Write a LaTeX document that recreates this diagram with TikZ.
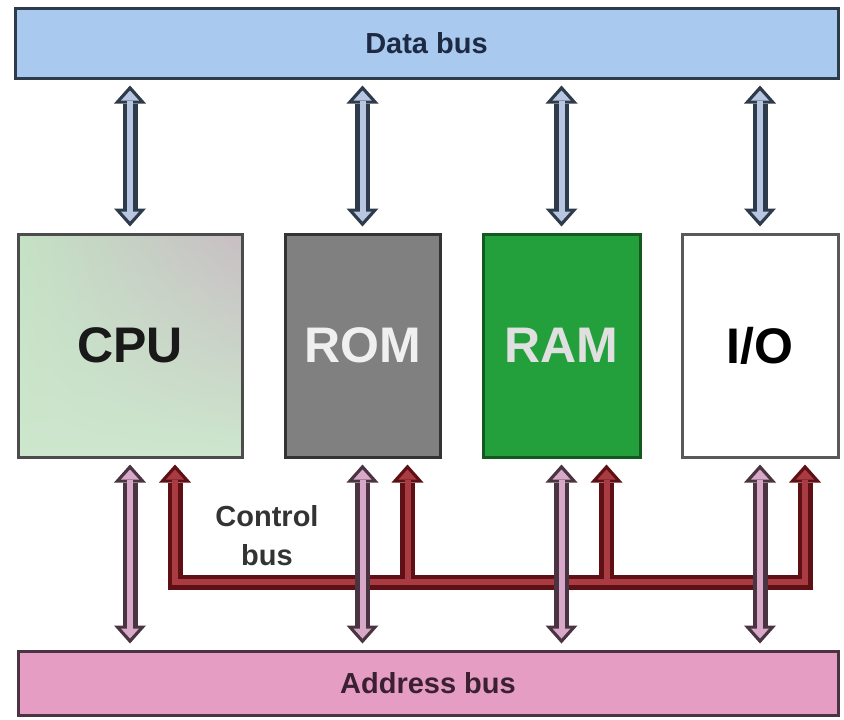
\documentclass[tikz,border=0pt]{standalone}
\usepackage{fontspec}
\setmainfont{Liberation Sans}
\usetikzlibrary{arrows.meta,calc,shadings}

\definecolor{databg}{HTML}{A9C9EF}
\definecolor{dataedge}{HTML}{2E3B4B}
\definecolor{datatext}{HTML}{1E2A44}
\definecolor{datalight}{HTML}{B8C6E2}
\definecolor{cpugreen}{HTML}{C4E2C4}
\definecolor{cpugray}{HTML}{C8BEC4}
\definecolor{romfill}{HTML}{808080}
\definecolor{ramfill}{HTML}{23A03C}
\definecolor{ramedge}{HTML}{145A20}
\definecolor{addrbg}{HTML}{E59DC3}
\definecolor{addredge}{HTML}{4A3442}
\definecolor{addrtext}{HTML}{3A2030}
\definecolor{addrlight}{HTML}{D8A8C8}
\definecolor{ctledge}{HTML}{5E1015}
\definecolor{ctllight}{HTML}{A83C42}

\begin{document}
\begin{tikzpicture}
  [x=0.5pt, y=-0.5pt,
    every node/.style={inner sep=0pt},
    unit/.style={draw, line width=1.5pt, minimum height=111.5pt,
      font=\fontsize{25}{30}\selectfont\bfseries},
    bus/.style={draw, line width=1.5pt, font=\fontsize{14.5}{18}\selectfont\bfseries},
    outer/.style={line width=7.5pt, line join=miter, shorten <=3pt, shorten >=3pt,
      >={Triangle[width=16pt,length=9pt,line width=0pt]}},
    inner/.style={line width=3pt, line join=miter, shorten <=5.5pt, shorten >=5.5pt,
      >={Triangle[width=9pt,length=5pt,line width=0pt]}},
  ]
  \useasboundingbox (0,0) rectangle (844,719);

  % buses
  \node[bus, draw=dataedge, fill=databg, text=datatext,
    minimum width=411.5pt, minimum height=35pt] (data) at (426.5,43) {Data bus};
  \node[bus, draw=addredge, fill=addrbg, text=addrtext,
    minimum width=410pt, minimum height=32pt] (addr) at (428,683) {Address bus};

  % units
  \node[unit, draw=black!70, minimum width=112pt, shade,
    upper left=cpugreen, lower left=cpugreen!85!white, lower right=cpugreen!85!white,
    upper right=cpugray, text=black!90] (cpu) at (130,345.5) {CPU};
  \node[unit, draw=black!80, fill=romfill, text=white!94!black,
    minimum width=77.5pt] (rom) at (362.5,345.5) {ROM};
  \node[unit, draw=ramedge, fill=ramfill, text=white!88!black,
    minimum width=78.5pt] (ram) at (561.5,345.5) {RAM};
  \node[unit, draw=black!65, fill=white, text=black,
    minimum width=78pt] (io) at (760,345.5) {I/O};

  % data bus links
  \foreach \u in {cpu,rom,ram,io}
    \draw[outer, dataedge, <->] (data.south -| \u.north) -- (\u.north);
  \foreach \u in {cpu,rom,ram,io}
    \draw[inner, datalight, <->] (data.south -| \u.north) -- (\u.north);

  % control bus
  \coordinate (ctl) at (0,582);
  \coordinate (k1) at ($(cpu.south)+(45,0)$);
  \coordinate (k2) at ($(rom.south)+(45,0)$);
  \coordinate (k3) at ($(ram.south)+(45,0)$);
  \coordinate (k4) at ($(io.south)+(45,0)$);
  \draw[outer, ctledge, <->] (k1) -- (k1 |- ctl) -- (k4 |- ctl) -- (k4);
  \draw[outer, ctledge, ->, shorten <=0pt] (k2 |- ctl) -- (k2);
  \draw[outer, ctledge, ->, shorten <=0pt] (k3 |- ctl) -- (k3);
  \draw[inner, ctllight, <->] (k1) -- (k1 |- ctl) -- (k4 |- ctl) -- (k4);
  \draw[inner, ctllight, ->, shorten <=0pt] (k2 |- ctl) -- (k2);
  \draw[inner, ctllight, ->, shorten <=0pt] (k3 |- ctl) -- (k3);
  \node[font=\fontsize{14.5}{19.5}\selectfont\bfseries, align=center, text=black!80]
    (ctltext) at (267,536) {Control\\bus};

  % address bus links
  \foreach \u in {cpu,rom,ram,io}
    \draw[outer, addredge, <->] (\u.south) -- (\u.south |- addr.north);
  \foreach \u in {cpu,rom,ram,io}
    \draw[inner, addrlight, <->] (\u.south) -- (\u.south |- addr.north);
\end{tikzpicture}
\end{document}
